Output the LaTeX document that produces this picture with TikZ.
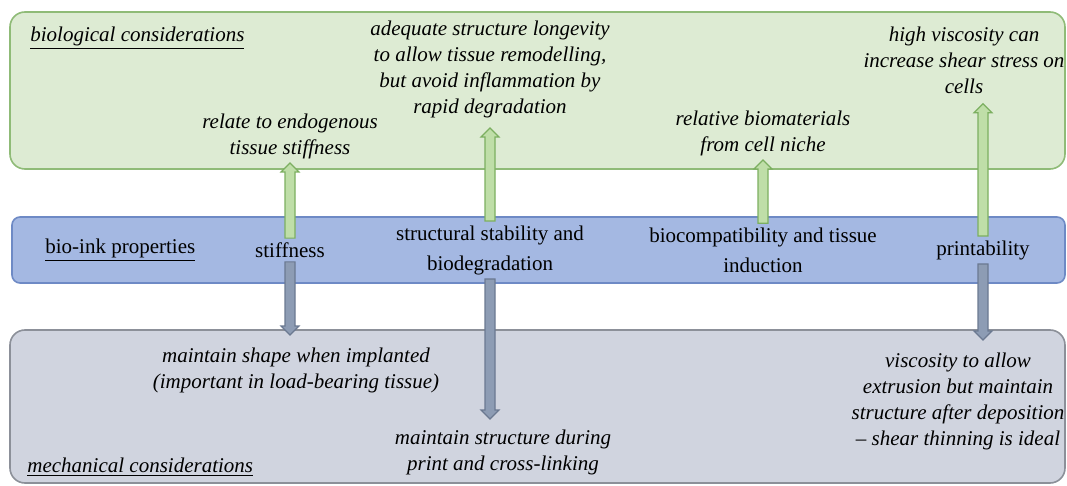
\documentclass[tikz,border=0pt]{standalone}
\usepackage{fontspec}
\setmainfont{Liberation Serif}
\usepackage{xcolor}
\usepackage{tikz}
\usetikzlibrary{calc}
\definecolor{biofill}{HTML}{DDEBD3}
\definecolor{bioline}{HTML}{8FBB77}
\definecolor{bioarr}{HTML}{BFDEA8}
\definecolor{bioarrline}{HTML}{7CAF60}
\definecolor{propfill}{HTML}{A4B8E2}
\definecolor{propline}{HTML}{6E8AC5}
\definecolor{mechfill}{HTML}{D0D4DF}
\definecolor{mechline}{HTML}{8C9099}
\definecolor{mecharr}{HTML}{8D9CB4}
\definecolor{mecharrline}{HTML}{6B7991}

\begin{document}
\begin{tikzpicture}[
      x=0.5pt, y=-0.5pt,
      note/.style={align=center, inner sep=2pt, font=\fontsize{10.5}{13}\selectfont\itshape},
      prop/.style={align=center, inner sep=2pt, font=\fontsize{10.5}{15}\selectfont},
      uparr/.style={draw=bioarrline, fill=bioarr, line width=0.6pt,
        to path={let \p1=(\tikztostart), \p2=(\tikztotarget) in
          (\x1-2.5pt,\y1) -- (\x1-2.5pt,\y2-4.5pt) -- (\x1-4.5pt,\y2-4.5pt) -- (\x1,\y2)
          -- (\x1+4.5pt,\y2-4.5pt) -- (\x1+2.5pt,\y2-4.5pt) -- (\x1+2.5pt,\y1) -- cycle}},
      dnarr/.style={draw=mecharrline, fill=mecharr, line width=0.6pt,
        to path={let \p1=(\tikztostart), \p2=(\tikztotarget) in
          (\x1-2.5pt,\y1) -- (\x1-2.5pt,\y2+4.5pt) -- (\x1-4.5pt,\y2+4.5pt) -- (\x1,\y2)
          -- (\x1+4.5pt,\y2+4.5pt) -- (\x1+2.5pt,\y2+4.5pt) -- (\x1+2.5pt,\y1) -- cycle}}]
    \useasboundingbox (0,0) rectangle (1067,486);
    % the three bands
    \draw[draw=bioline, fill=biofill, line width=0.8pt, rounded corners=7.5pt] (10,12) rectangle (1065,169);
    \draw[draw=propline, fill=propfill, line width=0.8pt, rounded corners=4pt] (12,217) rectangle (1065,283);
    \draw[draw=mechline, fill=mechfill, line width=0.8pt, rounded corners=7.5pt] (10,330) rectangle (1065,483);
    % biological
    \node[note, anchor=west] (lbl-bio) at (26,38) {\underline{biological considerations}};
    \node[note] (b-stiff)  at (290,136) {relate to endogenous\\tissue stiffness};
    \node[note] (b-struct) at (490,69)  {adequate structure longevity\\to allow tissue remodelling,\\but avoid inflammation by\\rapid degradation};
    \node[note] (b-compat) at (763,133) {relative biomaterials\\from cell niche};
    \node[note] (b-print)  at (964,60)  {high viscosity can\\increase shear stress on\\cells};
    % properties
    \node[prop, anchor=west] (lbl-prop) at (41,250) {\underline{bio-ink properties}};
    \node[prop] (p-stiff)  at (290,250) {stiffness};
    \node[prop] (p-struct) at (490,250) {structural stability and\\biodegradation};
    \node[prop] (p-compat) at (763,250) {biocompatibility and tissue\\induction};
    \node[prop] (p-print)  at (983,250) {printability};
    % mechanical
    \node[note] (m-stiff)  at (296,370) {maintain shape when implanted\\(important in load-bearing tissue)};
    \node[note] (m-struct) at (503,452) {maintain structure during\\print and cross-linking};
    \node[note] (m-print)  at (958,401) {viscosity to allow\\extrusion but maintain\\structure after deposition\\-- shear thinning is ideal};
    \node[note, anchor=west] (lbl-mech) at (23,467) {\underline{mechanical considerations}};
    % arrows
    \draw[uparr] (p-stiff.north)  to (p-stiff.north |- b-stiff.south);
    \draw[uparr] (p-struct.north) to ([yshift=-3pt]p-struct.north |- b-struct.south);
    \draw[uparr] (p-compat.north) to (p-compat.north |- b-compat.south);
    \draw[uparr] (p-print.north)  to ([yshift=-3pt]p-print.north |- b-print.south);
    \draw[dnarr] (p-stiff.south)  to ([yshift=4pt]p-stiff.south |- m-stiff.north);
    \draw[dnarr] (p-struct.south) to ([yshift=3pt]p-struct.south |- m-struct.north);
    \draw[dnarr] (p-print.south)  to ([yshift=4pt]p-print.south |- m-print.north);
  \end{tikzpicture}
\end{document}
